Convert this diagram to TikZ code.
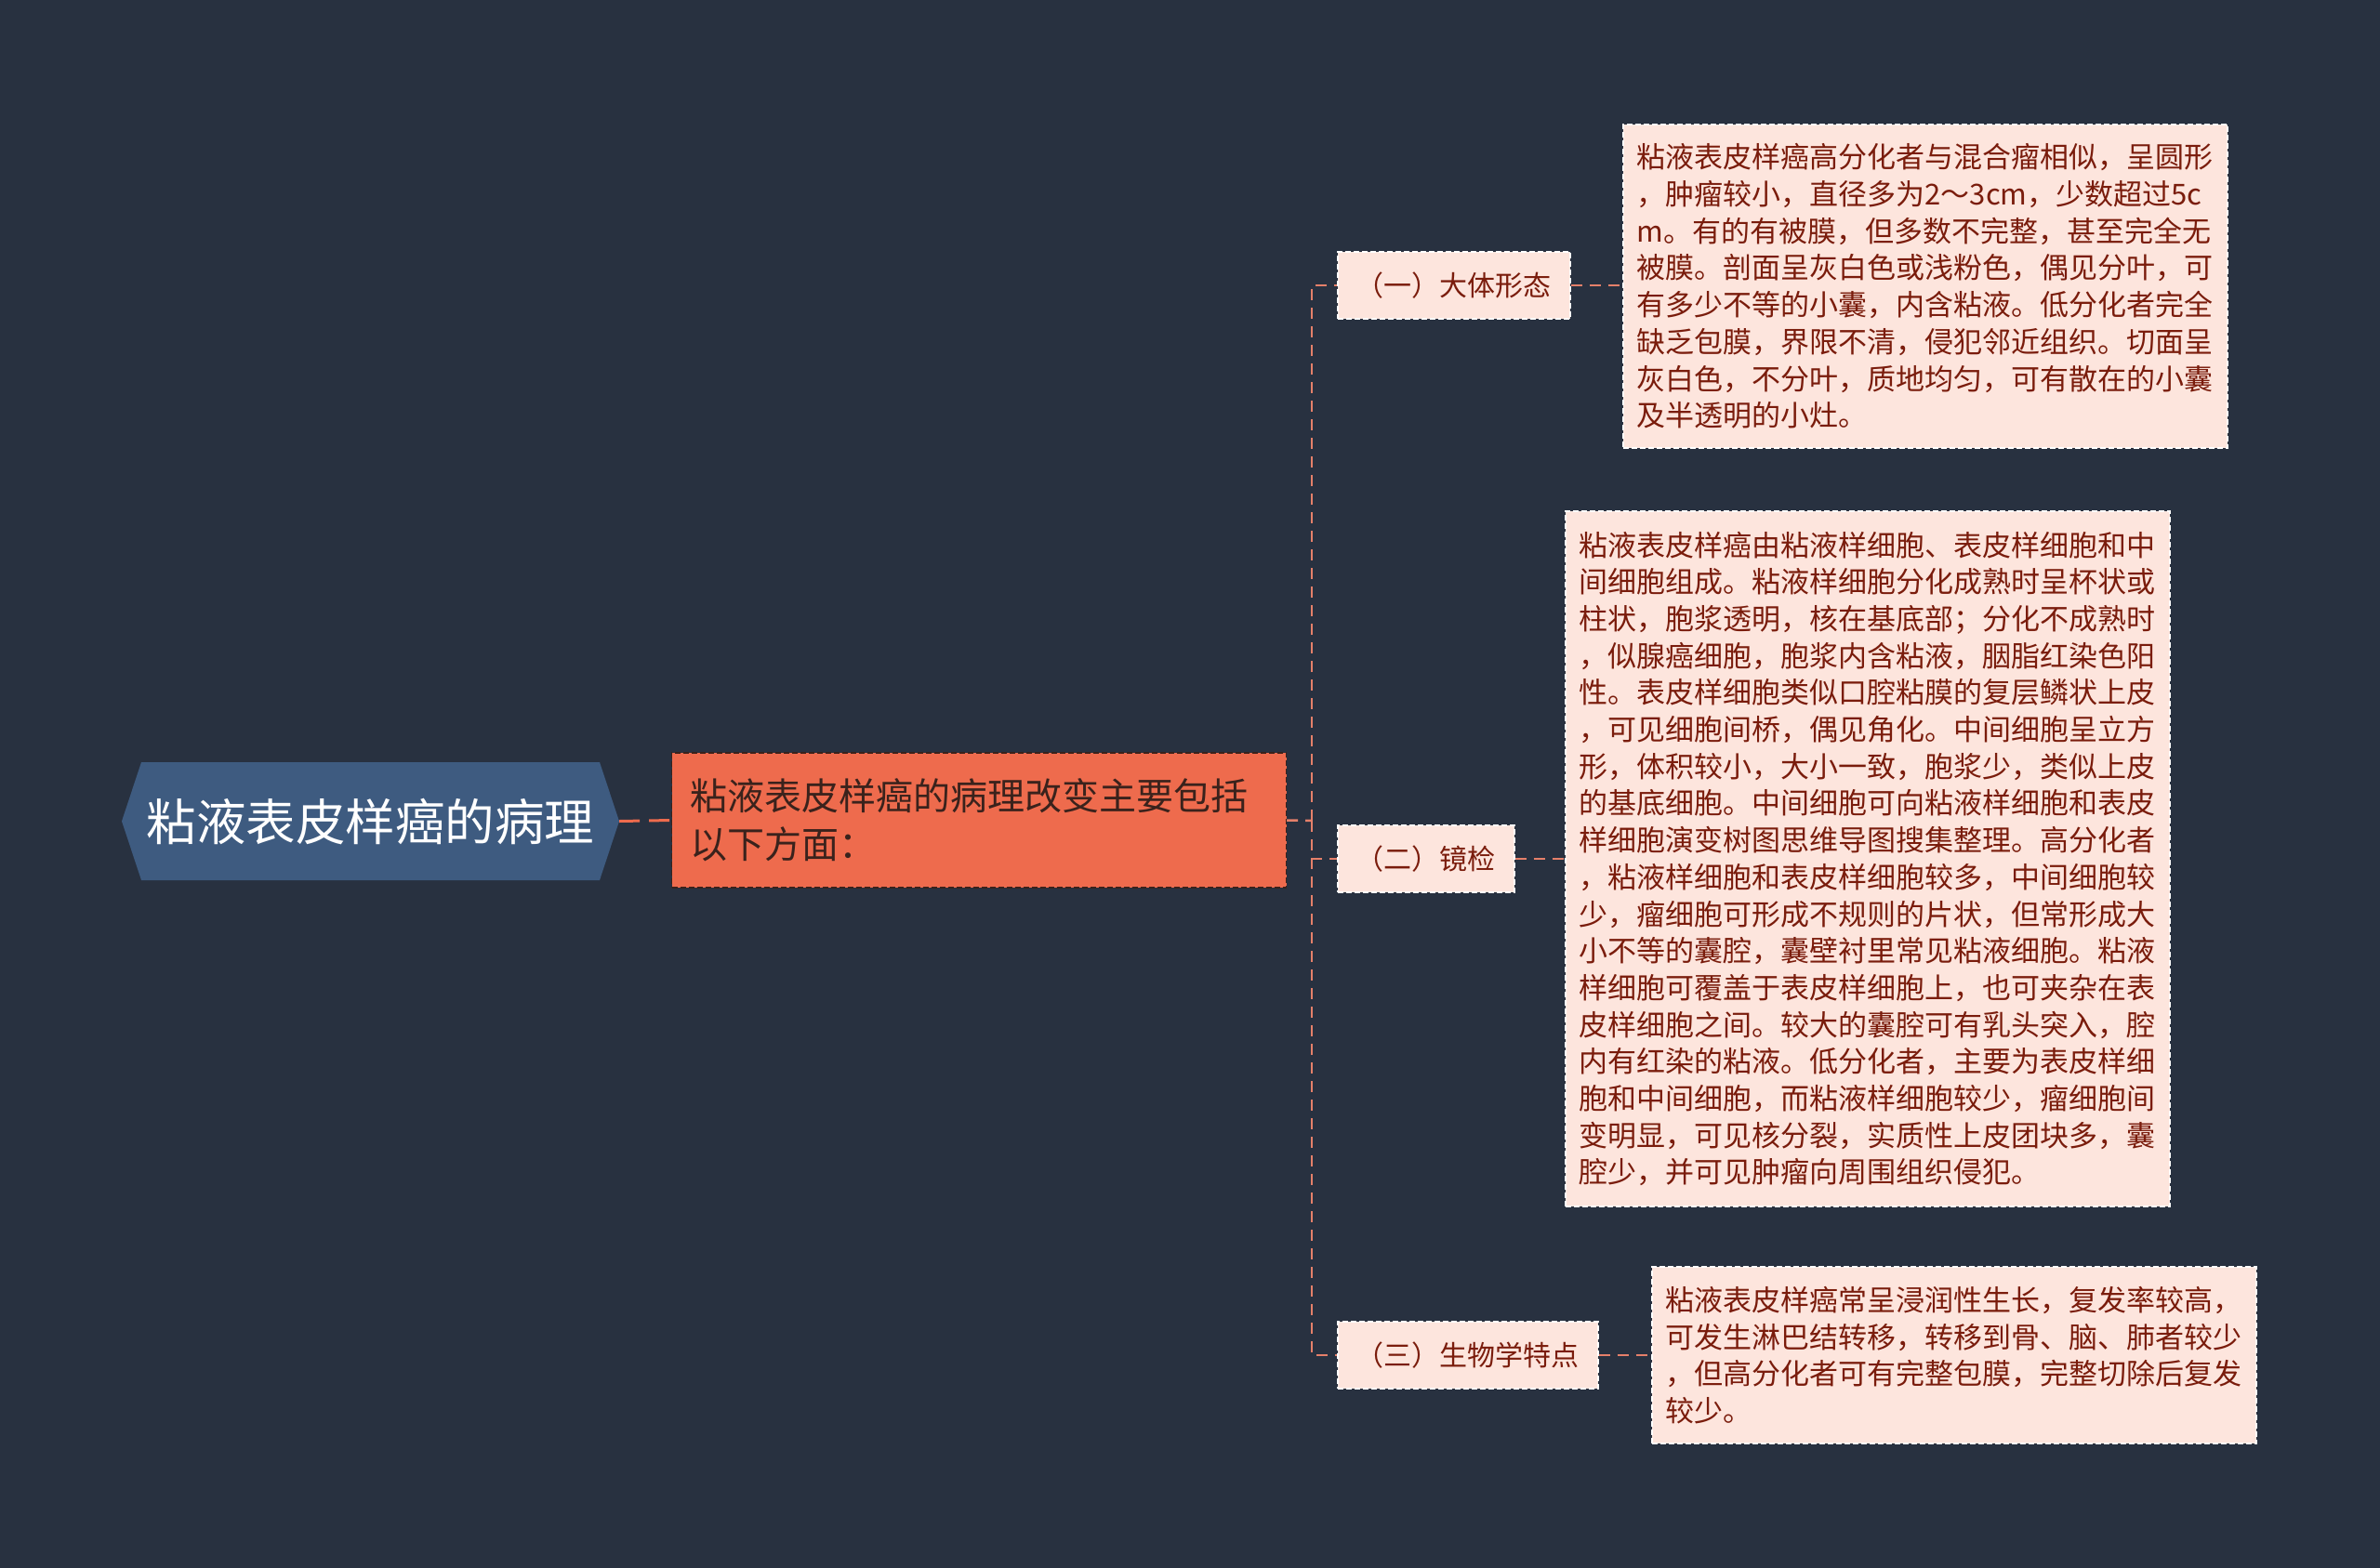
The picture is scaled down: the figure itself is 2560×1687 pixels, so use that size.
\documentclass[tikz,border=0pt]{standalone}
\usepackage{fontspec}
\setmainfont{Noto Sans CJK SC}
\usetikzlibrary{calc}
\definecolor{bg}{HTML}{283140}
\definecolor{rootfill}{HTML}{3E5B80}
\definecolor{mainfill}{HTML}{EE6B4D}
\definecolor{maintext}{HTML}{3A221C}
\definecolor{leaffill}{HTML}{FDE5DD}
\definecolor{leaftext}{HTML}{7A1C0C}
\definecolor{linec}{HTML}{E5806A}
\begin{document}
\begin{tikzpicture}[x=1pt,y=-1pt,
  conn/.style={draw=linec, line width=2.5pt, dash pattern=on 12pt off 8pt},
  rootconn/.style={draw=mainfill, line width=3pt, dash pattern=on 22pt off 10pt},
  mainbox/.style={rectangle, fill=mainfill, draw=maintext, line width=1.2pt, dash pattern=on 6pt off 3pt,
    text=maintext, font=\fontsize{40}{52}\selectfont, text width=621pt, align=left,
    inner xsep=20pt, inner ysep=10pt, minimum height=145pt, anchor=west},
  branchbox/.style={rectangle, fill=leaffill, draw=white, line width=1.5pt, dash pattern=on 6pt off 3pt,
    text=leaftext, font=\fontsize{30}{36}\selectfont, inner xsep=20pt, inner ysep=6pt,
    minimum height=72pt, anchor=west},
  leafbox/.style={rectangle, fill=leaffill, draw=white, line width=1.5pt, dash pattern=on 6pt off 3pt,
    text=leaftext, font=\fontsize{31}{39.7}\selectfont, text width=620pt, align=left,
    inner xsep=15pt, inner ysep=12pt, anchor=west}
]
\useasboundingbox (0,0) rectangle (2560,1687);
\fill[bg] (0,0) rectangle (2560,1687);

% root hexagon
\fill[rootfill] (131,883.5) -- (152,820) -- (645,820) -- (666,883.5) -- (645,947) -- (152,947) -- cycle;
\node[text=white, font=\fontsize{53.5}{60}\selectfont, minimum width=535pt, minimum height=127pt, inner sep=0pt]
  (root) at (398.5,883.5) {粘液表皮样癌的病理};

\node[mainbox] (main) at (722,882.5) {粘液表皮样癌的病理改变主要包括\\以下方面：};

\coordinate (trunk) at (1411,883);

\node[branchbox] (b1) at (1438,307) {（一）大体形态};
\node[branchbox] (b2) at (1438,924) {（二）镜检};
\node[branchbox] (b3) at (1438,1458) {（三）生物学特点};

\node[leafbox, minimum height=348pt] (l1) at (1745,308) {粘液表皮样癌高分化者与混合瘤相似，呈圆形\\，肿瘤较小，直径多为2～3cm，少数超过5c\\m。有的有被膜，但多数不完整，甚至完全无\\被膜。剖面呈灰白色或浅粉色，偶见分叶，可\\有多少不等的小囊，内含粘液。低分化者完全\\缺乏包膜，界限不清，侵犯邻近组织。切面呈\\灰白色，不分叶，质地均匀，可有散在的小囊\\及半透明的小灶。};

\node[leafbox, minimum height=748pt] (l2) at (1683,924) {粘液表皮样癌由粘液样细胞、表皮样细胞和中\\间细胞组成。粘液样细胞分化成熟时呈杯状或\\柱状，胞浆透明，核在基底部；分化不成熟时\\，似腺癌细胞，胞浆内含粘液，胭脂红染色阳\\性。表皮样细胞类似口腔粘膜的复层鳞状上皮\\，可见细胞间桥，偶见角化。中间细胞呈立方\\形，体积较小，大小一致，胞浆少，类似上皮\\的基底细胞。中间细胞可向粘液样细胞和表皮\\样细胞演变树图思维导图搜集整理。高分化者\\，粘液样细胞和表皮样细胞较多，中间细胞较\\少，瘤细胞可形成不规则的片状，但常形成大\\小不等的囊腔，囊壁衬里常见粘液细胞。粘液\\样细胞可覆盖于表皮样细胞上，也可夹杂在表\\皮样细胞之间。较大的囊腔可有乳头突入，腔\\内有红染的粘液。低分化者，主要为表皮样细\\胞和中间细胞，而粘液样细胞较少，瘤细胞间\\变明显，可见核分裂，实质性上皮团块多，囊\\腔少，并可见肿瘤向周围组织侵犯。};

\node[leafbox, minimum height=190pt] (l3) at (1776,1458) {粘液表皮样癌常呈浸润性生长，复发率较高，\\可发生淋巴结转移，转移到骨、脑、肺者较少\\，但高分化者可有完整包膜，完整切除后复发\\较少。};

% connectors
\draw[rootconn] (root.east) -- (main.west);
\draw[conn] (main.east) -- (trunk);
\draw[conn] (trunk) |- (b1.west);
\draw[conn] (trunk) |- (b2.west);
\draw[conn] (trunk) |- (b3.west);
\draw[conn] (b1.east) -- (l1.west |- b1.east);
\draw[conn] (b2.east) -- (l2.west |- b2.east);
\draw[conn] (b3.east) -- (l3.west |- b3.east);
\end{tikzpicture}
\end{document}
